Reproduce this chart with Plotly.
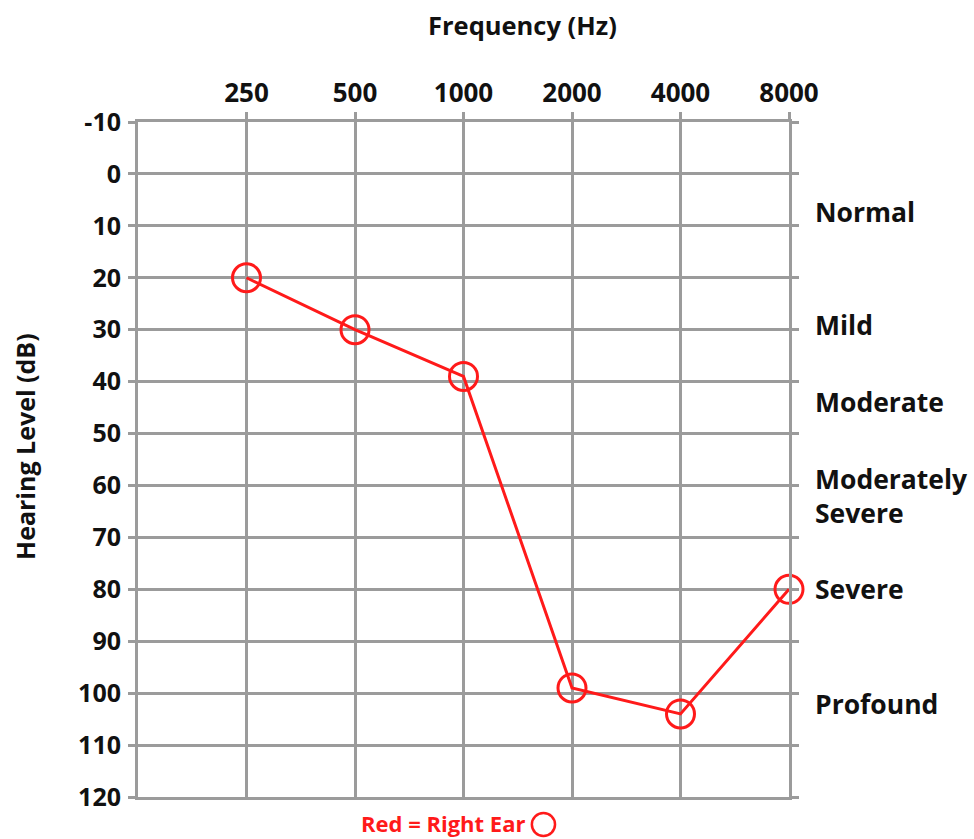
import math
import plotly.graph_objects as go

# Data
frequencies = [250, 500, 1000, 2000, 4000, 8000]
freq_labels = ["250", "500", "1000", "2000", "4000", "8000"]
right_ear_db = [20, 30, 39, 99, 104, 80]
db_ticks = [-10, 0, 10, 20, 30, 40, 50, 60, 70, 80, 90, 100, 110, 120]
db_tick_labels = ["-10", "0", "10", "20", "30", "40", "50", "60", "70", "80", "90", "100", "110", "120"]
band_labels = ["Normal", "Mild", "Moderate", "Moderately<br>Severe", "Severe", "Profound"]
band_label_db = [7.3, 29, 44, 62, 80, 102]

GRID = "#9b9b9b"
RED = "#ff1a1a"
TXT = "#111111"
FONT = "Open Sans"

fig = go.Figure()
fig.add_trace(go.Scatter(
    x=frequencies, y=right_ear_db, mode="lines+markers",
    line=dict(color=RED, width=3),
    marker=dict(symbol="circle-open", size=28, color=RED, line=dict(width=3, color=RED)),
    cliponaxis=False,
    showlegend=False, hoverinfo="x+y",
))

fig.update_xaxes(
    type="log", range=[math.log10(125), math.log10(8000)],
    tickvals=frequencies, ticktext=freq_labels, side="top",
    showgrid=True, gridcolor=GRID, gridwidth=3,
    showline=True, linecolor=GRID, linewidth=3, mirror=True,
    ticks="outside", ticklen=7, tickcolor=GRID, tickwidth=3,
    tickfont=dict(family=FONT, size=26, color=TXT, weight="bold"),
    zeroline=False,
)
fig.update_yaxes(
    range=[120, -10], tickvals=db_ticks, ticktext=db_tick_labels,
    showgrid=True, gridcolor=GRID, gridwidth=3,
    showline=True, linecolor=GRID, linewidth=3, mirror="ticks",
    ticks="outside", ticklen=7, tickcolor=GRID, tickwidth=3,
    ticklabelstandoff=2,
    tickfont=dict(family=FONT, size=25, color=TXT, weight="bold"),
    zeroline=False,
)

annotations = []
for lab, db in zip(band_labels, band_label_db):
    annotations.append(dict(
        text=lab, xref="paper", x=1, xanchor="left", xshift=24,
        yref="y", y=db, yanchor="middle", showarrow=False, align="left",
        font=dict(family=FONT, size=26.5, color=TXT, weight="bold"),
    ))
annotations.append(dict(
    text="Frequency (Hz)", xref="paper", x=0.59, y=1.1437, yref="paper",
    xanchor="center", yanchor="middle", showarrow=False,
    font=dict(family=FONT, size=25.5, color=TXT, weight="bold"),
))
annotations.append(dict(
    text="Hearing Level (dB)", xref="paper", x=-0.1736, yref="paper", y=0.52,
    xanchor="center", yanchor="middle", textangle=-90, showarrow=False,
    font=dict(family=FONT, size=25, color=TXT, weight="bold"),
))
annotations.append(dict(
    text="Red = Right Ear", xref="paper", x=0.5975, yref="paper", y=-0.0385,
    xanchor="right", yanchor="middle", showarrow=False,
    font=dict(family=FONT, size=22, color=RED, weight="bold"),
))

fig.update_layout(
    width=974, height=839,
    margin=dict(l=138, r=185, t=122, b=42),
    paper_bgcolor="white", plot_bgcolor="white",
    annotations=annotations,
    shapes=[dict(type="circle", xref="paper", yref="paper",
                 x0=0.605, x1=0.6406, y0=-0.0578, y1=-0.0237,
                 line=dict(color=RED, width=2.5))],
)

fig.write_html("out.html", config={"displayModeBar": False},
               post_script="document.body.style.margin='0px';")
